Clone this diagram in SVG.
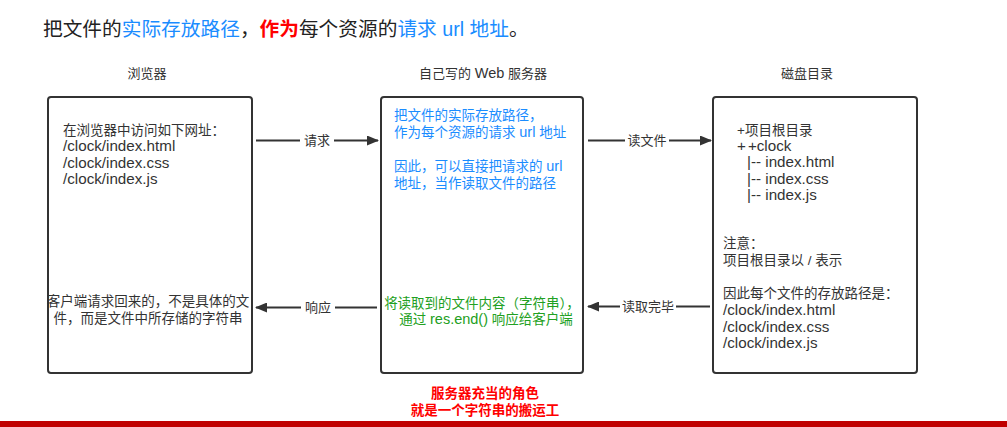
<svg xmlns="http://www.w3.org/2000/svg" width="1007" height="427" viewBox="0 0 1007 427">
<style>
text{font-family:"Liberation Sans","Noto Sans CJK SC",sans-serif;}
.box{fill:#fff;stroke:#333;stroke-width:2;}
.t{font-size:13.5px;fill:#333;}
.l{font-size:15.2px;fill:#333;}
.title{font-size:13px;fill:#333;text-anchor:middle;}
.blue{font-size:13.5px;fill:#1a8cff;}
.green{font-size:13.5px;fill:#22a022;text-anchor:middle;}
.lbl{font-size:13px;fill:#333;text-anchor:middle;}
.line{stroke:#333;stroke-width:2;fill:none;}
.red{font-size:13.5px;fill:#ff0000;font-weight:bold;text-anchor:middle;}
.big{font-size:14.5px;}
</style>
<defs>
<marker id="arr" viewBox="0 0 12 10" refX="11" refY="5" markerWidth="12" markerHeight="10" markerUnits="userSpaceOnUse" orient="auto">
<path d="M0,0 L12,5 L0,10 Z" fill="#333"/>
</marker>
</defs>
<rect width="1007" height="427" fill="#fff"/>
<text x="43" y="36" style="font-size:19.7px" fill="#222">把文件的<tspan fill="#1a8cff">实际存放路径</tspan>，<tspan fill="#ff0000" font-weight="bold">作为</tspan>每个资源的<tspan fill="#1a8cff">请求 url 地址</tspan>。</text>

<text class="title" x="147" y="78">浏览器</text>
<text class="title" x="483" y="78">自己写的 <tspan class="big">Web</tspan> 服务器</text>
<text class="title" x="807" y="78">磁盘目录</text>

<g id="browser">
<rect class="box" x="48" y="97" width="204" height="276" rx="3"/>
<text class="t" x="63" y="135">在浏览器中访问如下网址：</text>
<text class="l" x="63" y="151">/clock/index.html</text>
<text class="l" x="63" y="168">/clock/index.css</text>
<text class="l" x="63" y="184">/clock/index.js</text>
<text class="t" x="148" y="306" text-anchor="middle">客户端请求回来的，不是具体的文</text>
<text class="t" x="148" y="323" text-anchor="middle">件，而是文件中所存储的字符串</text>
</g>

<g id="server">
<rect class="box" x="381" y="97" width="202" height="276" rx="3"/>
<text class="blue" x="394" y="120">把文件的实际存放路径，</text>
<text class="blue" x="394" y="137">作为每个资源的请求 <tspan class="big">url</tspan> 地址</text>
<text class="blue" x="394" y="171">因此，可以直接把请求的 <tspan class="big">url</tspan></text>
<text class="blue" x="394" y="188">地址，当作读取文件的路径</text>
<text class="green" x="482" y="308">将读取到的文件内容（字符串），</text>
<text class="green" x="486" y="324">通过 <tspan class="big">res.end()</tspan> 响应给客户端</text>
</g>

<g id="disk">
<rect class="box" x="713" y="97" width="204" height="276" rx="3"/>
<text class="t" x="737" y="135">+项目根目录</text>
<text class="l" x="737" y="151">+<tspan dx="2">+clock</tspan></text>
<text class="l" x="747" y="167">|-- index.html</text>
<text class="l" x="747" y="184">|-- index.css</text>
<text class="l" x="747" y="200">|-- index.js</text>
<text class="t" x="723" y="248">注意：</text>
<text class="t" x="723" y="265">项目根目录以 / 表示</text>
<text class="t" x="723" y="298">因此每个文件的存放路径是：</text>
<text class="l" x="723" y="315">/clock/index.html</text>
<text class="l" x="723" y="332">/clock/index.css</text>
<text class="l" x="723" y="348">/clock/index.js</text>
</g>

<g id="connectors">
<line class="line" x1="256" y1="140.5" x2="378" y2="140.5" marker-end="url(#arr)"/>
<rect x="300" y="132" width="34" height="17" fill="#fff"/>
<text class="lbl" x="317" y="145">请求</text>
<line class="line" x1="588" y1="140.5" x2="711" y2="140.5" marker-end="url(#arr)"/>
<rect x="625" y="132" width="44" height="17" fill="#fff"/>
<text class="lbl" x="647" y="145">读文件</text>
<line class="line" x1="377" y1="307.5" x2="256" y2="307.5" marker-end="url(#arr)"/>
<rect x="301" y="299" width="34" height="17" fill="#fff"/>
<text class="lbl" x="318" y="312">响应</text>
<line class="line" x1="710" y1="306.5" x2="588" y2="306.5" marker-end="url(#arr)"/>
<rect x="620" y="298" width="56" height="17" fill="#fff"/>
<text class="lbl" x="648" y="311">读取完毕</text>
</g>

<text class="red" x="485" y="398">服务器充当的角色</text>
<text class="red" x="485" y="415">就是一个字符串的搬运工</text>
<rect x="0" y="421" width="1007" height="6" fill="#c00000"/>
</svg>
